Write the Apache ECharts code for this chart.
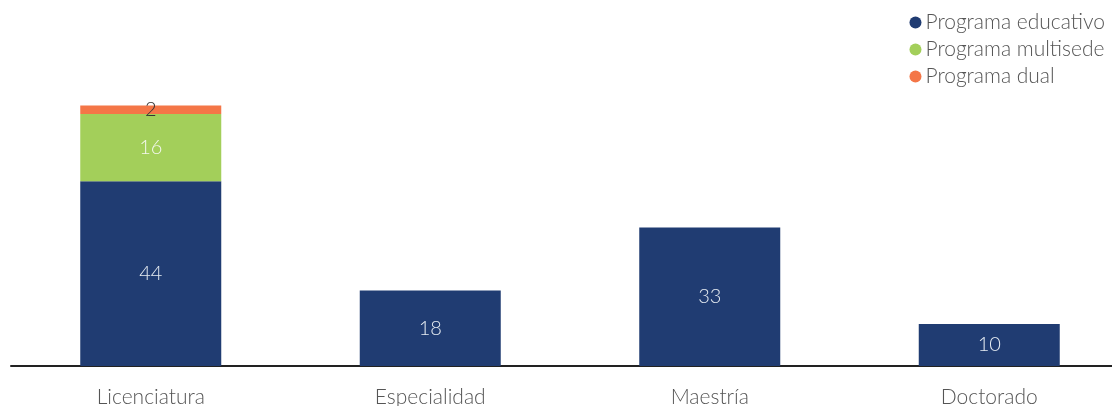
<!DOCTYPE html>
<html><head><meta charset="utf-8">
<script src="https://cdn.jsdelivr.net/npm/echarts@6/dist/echarts.min.js"></script>
<style>html,body{margin:0;padding:0;background:#fff;}#c{width:1112px;height:406px;}</style>
</head><body><div id="c"></div>
<script>
const categories = ["Licenciatura", "Especialidad", "Maestría", "Doctorado"];
const educativo = [44, 18, 33, 10];
const multisede = [16, null, null, null];
const dual = [2, null, null, null];

const chart = echarts.init(document.getElementById('c'));
const font = 'Lato, "Open Sans", sans-serif';
chart.setOption({
  animation: false,
  textStyle: { fontFamily: font },
  legend: {
    orient: 'vertical', right: 2, top: 7,
    icon: 'circle', itemWidth: 12, itemHeight: 12, itemGap: 6,
    textStyle: { fontFamily: font, fontSize: 21, fontWeight: 300, color: '#555', padding: [0,0,0,-1] },
    data: ['Programa educativo', 'Programa multisede', 'Programa dual']
  },
  grid: { left: 11, right: -17, top: 72, bottom: 40, containLabel: false, outerBoundsMode: 'none' },
  xAxis: {
    type: 'category', data: categories,
    axisLine: { lineStyle: { color: '#222', width: 2 } },
    axisTick: { show: false },
    axisLabel: { fontFamily: font, fontSize: 21, fontWeight: 300, color: '#555', margin: 21 }
  },
  yAxis: { type: 'value', min: 0, max: 70, show: false, splitLine: { show: false } },
  series: [
    { name: 'Programa educativo', type: 'bar', stack: 's', data: educativo, barWidth: 141,
      itemStyle: { color: '#203c72' },
      label: { show: true, position: 'inside', color: '#e6ecf2', fontSize: 20, fontWeight: 300, fontFamily: font } },
    { name: 'Programa multisede', type: 'bar', stack: 's', data: multisede, barWidth: 141,
      itemStyle: { color: '#a3cf5a' },
      label: { show: true, position: 'inside', color: '#f4f8ee', fontSize: 20, fontWeight: 300, fontFamily: font } },
    { name: 'Programa dual', type: 'bar', stack: 's', data: dual, barWidth: 141,
      itemStyle: { color: '#f47647' },
      label: { show: true, position: 'inside', color: '#333', fontSize: 20, fontWeight: 300, fontFamily: font } }
  ]
});
</script></body></html>
